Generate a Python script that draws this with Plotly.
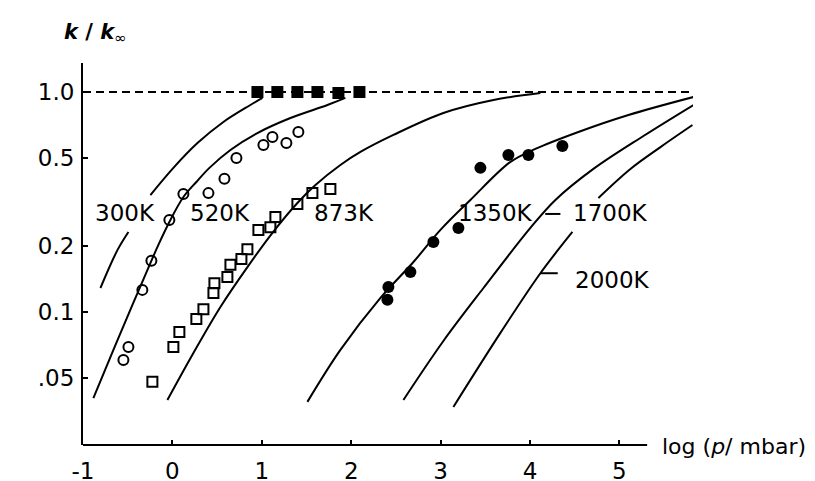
import math
import plotly.graph_objects as go

# ---- data (x = log(p/mbar), y = k/k_inf) ----
c300_x = [-0.805, -0.615, -0.492, None, -0.246, 0.011, 0.280, 0.570, 0.872, 1.007]
c300_y = [0.1285, 0.191, 0.231, None, 0.340, 0.452, 0.586, 0.731, 0.873, 0.94]

c520_x = [-0.884, -0.660, -0.447, -0.280, -0.157, -0.034, 0.123, 0.268, 0.414, 0.649, 0.951, 1.320, 1.734, 1.935]
c520_y = [0.0406, 0.0672, 0.1076, 0.155, 0.2017, 0.2564, 0.333, 0.390, 0.452, 0.545, 0.651, 0.762, 0.873, 0.94]

c873_x = [-0.056, 0.235, 0.537, 0.839, 1.119, 1.398, 1.600, 1.879, 2.103, 2.472, 3.031, 3.591, 4.116]
c873_y = [0.0398, 0.0651, 0.1054, 0.160, 0.229, 0.313, 0.378, 0.466, 0.534, 0.638, 0.803, 0.920, 0.99]

c1350_x = [1.510, 1.879, 2.327, 2.696, 2.998, 3.333, 3.781, 4.060, 4.541, 5.101, 5.828]
c1350_y = [0.0390, 0.0672, 0.1158, 0.1687, 0.236, 0.323, 0.481, 0.551, 0.658, 0.786, 0.949]

c1700_x = [2.584, 3.031, 3.479, 4.004, 4.284, 4.709, 5.268, 5.828]
c1700_y = [0.0398, 0.0738, 0.1285, 0.241, 0.323, 0.447, 0.631, 0.873]

c2000_x = [3.143, 3.669, 4.116, 4.474, None, 4.765, 5.123, 5.459, 5.817]
c2000_y = [0.0370, 0.0803, 0.150, 0.231, None, 0.330, 0.447, 0.562, 0.708]

open_circ_x = [-0.548, -0.492, -0.336, -0.235, -0.034, 0.123, 0.403, 0.582, 0.716, 1.018, 1.119, 1.275, 1.409]
open_circ_y = [0.0605, 0.0693, 0.126, 0.171, 0.262, 0.344, 0.347, 0.403, 0.501, 0.574, 0.624, 0.586, 0.658]

open_sq_x = [-0.224, 0.011, 0.078, 0.268, 0.347, 0.459, 0.470, 0.615, 0.649, 0.772, 0.839, 0.962, 1.096, 1.152, 1.398, 1.566, 1.767]
open_sq_y = [0.0481, 0.0693, 0.0811, 0.0929, 0.103, 0.122, 0.135, 0.144, 0.164, 0.174, 0.193, 0.236, 0.243, 0.270, 0.310, 0.347, 0.362]

fill_circ_x = [2.405, 2.416, 2.662, 2.919, 3.199, 3.445, 3.758, 3.982, 4.362]
fill_circ_y = [0.1135, 0.130, 0.152, 0.208, 0.241, 0.452, 0.517, 0.517, 0.568]

fill_sq_x = [0.951, 1.174, 1.398, 1.622, 1.857, 2.092]
fill_sq_y = [1.0, 1.0, 1.0, 1.0, 0.99, 1.0]

labels = ["300K", "520K", "873K", "1350K", "1700K", "2000K"]
label_x = [-0.526, 0.537, 1.924, 3.613, 4.90, 4.92]
label_y = [0.282, 0.282, 0.282, 0.282, 0.282, 0.140]

x_ticks = [-1, 0, 1, 2, 3, 4, 5]
y_ticks = [0.05, 0.1, 0.2, 0.5, 1.0]
y_ticktext = [".05", "0.1", "0.2", "0.5", "1.0"]

FONT = "DejaVu Sans"
fig = go.Figure()

for cx, cy in [(c300_x, c300_y), (c520_x, c520_y), (c873_x, c873_y),
               (c1350_x, c1350_y), (c1700_x, c1700_y), (c2000_x, c2000_y)]:
    fig.add_trace(go.Scatter(x=cx, y=cy, mode="lines", connectgaps=False,
                             line=dict(color="black", width=2, shape="spline", smoothing=1.0),
                             showlegend=False, hoverinfo="skip"))

fig.add_trace(go.Scatter(x=open_circ_x, y=open_circ_y, mode="markers", showlegend=False,
                         marker=dict(symbol="circle-open", size=10, color="black", line=dict(width=2, color="black"))))
fig.add_trace(go.Scatter(x=open_sq_x, y=open_sq_y, mode="markers", showlegend=False,
                         marker=dict(symbol="square-open", size=10, color="black", line=dict(width=2, color="black"))))
fig.add_trace(go.Scatter(x=fill_circ_x, y=fill_circ_y, mode="markers", showlegend=False,
                         marker=dict(symbol="circle", size=12, color="black")))
fig.add_trace(go.Scatter(x=fill_sq_x, y=fill_sq_y, mode="markers", showlegend=False,
                         marker=dict(symbol="square", size=12, color="black")))

# k/k_inf = 1 reference line
fig.add_shape(type="line", xref="paper", x0=0, x1=1, yref="y", y0=1.0, y1=1.0,
              line=dict(color="black", width=2, dash="8px,5px"), layer="below")
# x axis line (shorter than plotting range)
fig.add_shape(type="line", xref="x", x0=-1, x1=5.31, yref="paper", y0=0, y1=0,
              line=dict(color="black", width=2))
# leader dashes
fig.add_shape(type="line", xref="x", x0=4.17, x1=4.34, yref="y", y0=0.279, y1=0.279,
              line=dict(color="black", width=2))
fig.add_shape(type="line", xref="x", x0=4.12, x1=4.31, yref="y", y0=0.150, y1=0.150,
              line=dict(color="black", width=2))

for t, lx, ly in zip(labels, label_x, label_y):
    fig.add_annotation(x=lx, y=math.log10(ly), text=t, showarrow=False, xanchor="center", yanchor="middle",
                       font=dict(family=FONT, size=23, color="black"))

fig.add_annotation(xref="paper", yref="paper", x=-0.034, y=1.078, xanchor="left", yanchor="middle",
                   text="<b><i>k</i> / <i>k</i></b><sub>∞</sub>", showarrow=False,
                   font=dict(family=FONT, size=21, color="black"))
fig.add_annotation(xref="paper", yref="paper", x=0.946, y=-0.005, xanchor="left", yanchor="middle",
                   text="log (<i>p</i>/ mbar)", showarrow=False,
                   font=dict(family=FONT, size=22, color="black"))

fig.update_layout(
    width=815, height=481,
    margin=dict(l=75, r=130, t=55, b=44),
    paper_bgcolor="white", plot_bgcolor="white",
    font=dict(family=FONT, size=23, color="black"),
    xaxis=dict(range=[-1, 5.823], showgrid=False, zeroline=False, showline=False, automargin=False,
               tickmode="array", tickvals=x_ticks, ticktext=[str(v) for v in x_ticks],
               ticks="inside", ticklen=5, tickwidth=2, tickcolor="black",
               ticklabelstandoff=10),
    yaxis=dict(type="log", range=[-1.605, 0.132], showgrid=False, zeroline=False, automargin=False,
               showline=True, linecolor="black", linewidth=2,
               tickmode="array", tickvals=y_ticks, ticktext=y_ticktext,
               ticks="inside", ticklen=5, tickwidth=2, tickcolor="black",
               ticklabelstandoff=2),
)

fig.write_html("out.html")
